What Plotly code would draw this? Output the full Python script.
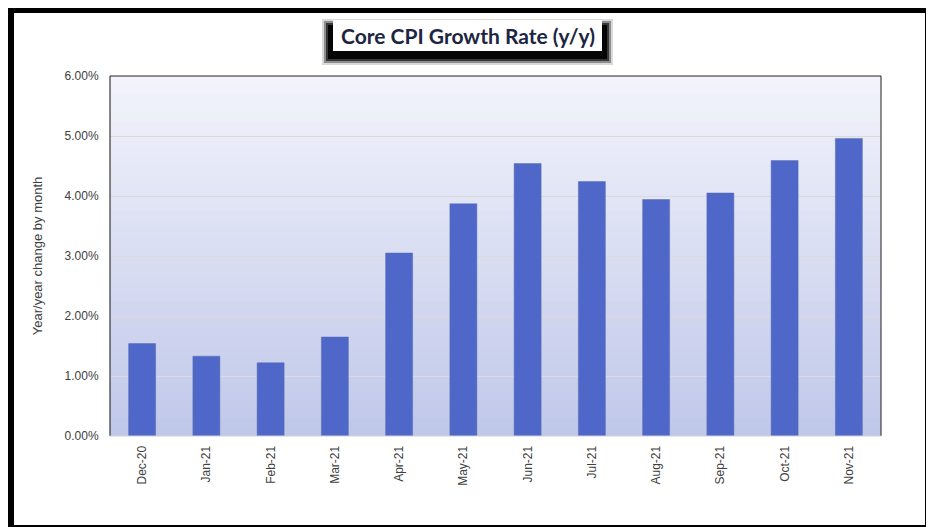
import plotly.graph_objects as go

months = ["Dec-20", "Jan-21", "Feb-21", "Mar-21", "Apr-21", "May-21",
          "Jun-21", "Jul-21", "Aug-21", "Sep-21", "Oct-21", "Nov-21"]
core_cpi = [0.0154, 0.0133, 0.0122, 0.0165, 0.0305, 0.0387,
            0.0454, 0.0424, 0.0394, 0.0405, 0.0459, 0.0496]
y_ticks = [0.0, 0.01, 0.02, 0.03, 0.04, 0.05, 0.06]

# figure size and plot margins (the page shows the figure offset by 8px)
W, H = 934, 527
pl, pr, pt, pb = 102, 61, 68, 99
pw, ph = W - pl - pr, H - pt - pb


def px(x):
    return (x - pl) / pw


def py(y):
    return (H - pb - y) / ph


fig = go.Figure()

fig.add_trace(go.Bar(
    x=months,
    y=core_cpi,
    marker=dict(color="#4f67c9", line=dict(color="#5a6aa8", width=0.5)),
    width=0.42,
))

shapes = []
# gradient plot background made of thin strips
n = 40
top = (242, 243, 251)
bot = (192, 200, 234)
for i in range(n):
    t = i / (n - 1)
    c = tuple(int(round(top[k] + (bot[k] - top[k]) * t)) for k in range(3))
    shapes.append(dict(type="rect", xref="x domain", yref="y domain",
                       x0=0, x1=1, y0=1 - (i + 1) / n, y1=1 - i / n,
                       fillcolor="rgb(%d,%d,%d)" % c, line=dict(width=0),
                       layer="below"))

# plot border: dark on left/top/right, light at the bottom
for x0, y0, x1, y1, col in [(0, 0, 0, 1, "#101010"), (0, 1, 1, 1, "#202020"),
                             (1, 0, 1, 1, "#202020"), (0, 0, 1, 0, "#d0d0d0")]:
    shapes.append(dict(type="line", xref="x domain", yref="y domain",
                       x0=x0, y0=y0, x1=x1, y1=y1,
                       line=dict(color=col, width=1), layer="above"))

# outer black frame
for x0, y0, x1, y1 in [(0, 0, 6, 519), (0, 0, 922, 5), (917, 0, 922, 519),
                       (0, 517, 922, 519)]:
    shapes.append(dict(type="rect", xref="paper", yref="paper",
                       x0=px(x0), x1=px(x1), y0=py(y1), y1=py(y0),
                       line=dict(width=0), fillcolor="black", layer="above"))
shapes.append(dict(type="rect", xref="paper", yref="paper",
                   x0=px(922), x1=px(926), y0=py(519), y1=py(0),
                   line=dict(width=0), fillcolor="rgba(60,80,80,0.35)", layer="above"))

# title box with blurred black shadow
for grow, op in [(7, 0.15), (5, 0.35), (3, 0.6), (1, 0.9)]:
    shapes.append(dict(type="rect", xref="paper", yref="paper",
                       x0=px(321 - grow), x1=px(598 + grow),
                       y0=py(50 + grow), y1=py(18 - grow),
                       line=dict(width=0), fillcolor="rgba(0,0,0,%.2f)" % op,
                       layer="above"))
shapes.append(dict(type="rect", xref="paper", yref="paper",
                   x0=px(325), x1=px(594), y0=py(43), y1=py(12),
                   line=dict(width=0), fillcolor="white", layer="above"))

fig.update_layout(
    width=W, height=H,
    margin=dict(l=pl, r=pr, t=pt, b=pb),
    paper_bgcolor="white",
    plot_bgcolor="rgba(0,0,0,0)",
    showlegend=False,
    shapes=shapes,
    font=dict(family="Liberation Sans, Arial", size=12, color="#404040"),
    xaxis=dict(
        tickangle=-90,
        showline=False,
        ticks="outside", ticklen=4, tickcolor="rgba(0,0,0,0)",
        tickfont=dict(size=12, color="#404040"),
        showgrid=False,
    ),
    yaxis=dict(
        range=[0, 0.06],
        tickvals=y_ticks,
        tickformat=".2%",
        showline=False,
        gridcolor="#dcdad6", gridwidth=1,
        zeroline=False,
        ticks="outside", ticklen=8, tickcolor="rgba(0,0,0,0)",
        tickfont=dict(size=12, color="#404040"),
        title=dict(text="Year/year change by month",
                   font=dict(size=13, color="#404040"), standoff=19),
    ),
)

fig.add_annotation(
    xref="paper", yref="paper",
    x=px(459.5), y=py(28), xanchor="center", yanchor="middle",
    text="<b>Core CPI Growth Rate (y/y)</b>",
    showarrow=False,
    font=dict(family="Lato, Open Sans", size=21, color="#1c2542"),
)

fig.write_html("out.html")
